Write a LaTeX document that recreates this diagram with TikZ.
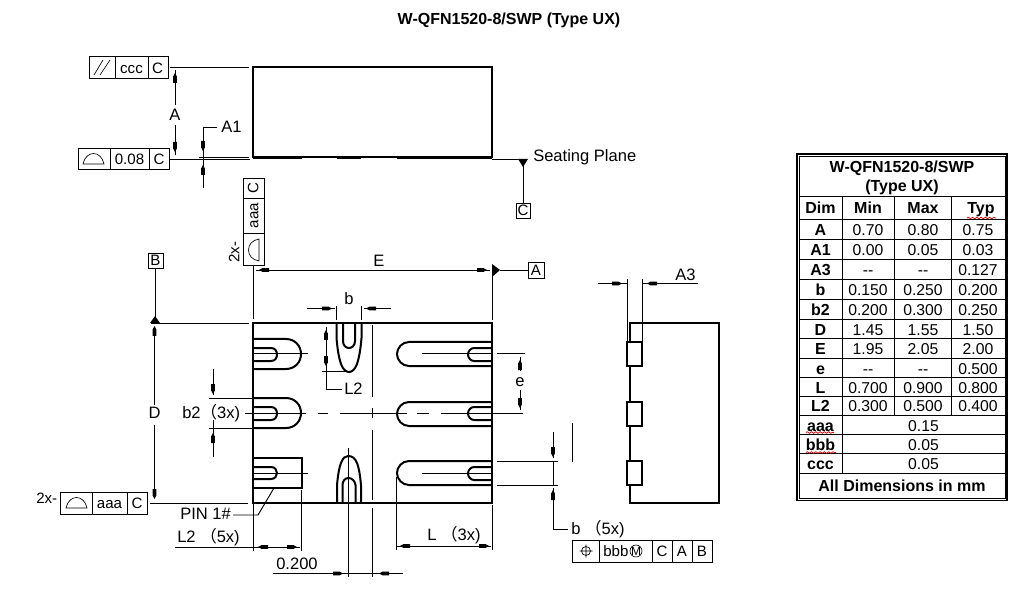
\documentclass[tikz,border=0pt]{standalone}
\usepackage{fontspec}
\setmainfont{Liberation Sans}
\newfontfamily\cjkf{Noto Sans CJK SC}
\usetikzlibrary{decorations.pathmorphing}
\newcommand{\fp}{{\cjkf （}}
\newcommand{\tipp}[3]{\fill[black,shift={(#1,#2)},rotate=#3] (-5,-1.9)--(1.5,-1.9)--(5,0)--(1.5,1.9)--(-5,1.9)--cycle;}
\tikzset{
  thk/.style={line width=1.5pt,line join=miter,line cap=butt},
  thn/.style={line width=.72pt},
  sym/.style={line width=.5pt},
  lab/.style={inner sep=0pt,text height=8.9pt,text depth=0pt,font=\fontsize{12.4}{14}\selectfont},
  ftx/.style={inner sep=0pt,text height=8.1pt,text depth=0pt,font=\fontsize{11.3}{13}\selectfont},
  num/.style={inner sep=0pt,text height=8.4pt,text depth=0pt,font=\fontsize{11.8}{13}\selectfont},
  hdr/.style={inner sep=0pt,text height=8.6pt,text depth=0pt,font=\fontsize{12}{13}\selectfont\bfseries},
  wavy/.style={draw=red!80!black,line width=.55pt,decorate,decoration={snake,segment length=3.2pt,amplitude=.6pt}},
}
\begin{document}
\begin{tikzpicture}[x=.75pt,y=-.75pt]
\useasboundingbox (0,0) rectangle (1020,591);
\node[hdr] (title) at (509,18.5) {W-QFN1520-8/SWP (Type UX)};

% ---- top view
\draw[thk] (253,157.5) -- (253,67) -- (492,67) -- (492,157.5) -- cycle;
\draw[thk] (253,158.5)--(302,158.5) (337,158.5)--(361,158.5) (397,158.5)--(492,158.5);
% ccc frame
\draw[thn] (89,56) rectangle (168,78) (115,56)--(115,78) (148,56)--(148,78);
\draw[sym] (94,75)--(103,60) (100,75)--(110,60);
\node[ftx] (fccc) at (131.5,68) {ccc};
\node[ftx] (fcc) at (157.5,68) {C};
\draw[thn] (170,67)--(249,67);
\draw[thn] (175,70)--(175,105) (175,125)--(175,155);
\tipp{175}{78}{90}\tipp{175}{147}{-90}
\node[lab] (dA) at (175,115) {A};
% 0.08 frame
\draw[thn] (78,148) rectangle (169,169) (110,148)--(110,169) (149,148)--(149,169);
\draw[sym] (83,164) .. controls (86,150) and (101,150) .. (104,164) -- cycle;
\node[ftx] (f08) at (129.5,159) {0.08};
\node[ftx] (f08c) at (159,159) {C};
\draw[thn] (170,159)--(250,159) (199,157)--(249,157);
\draw[thn] (217,127)--(203,127)--(203,188);
\tipp{203}{146}{-90}\tipp{203}{170}{90}
\node[lab,anchor=west] (dA1) at (221,126.5) {A1};
% seating
\draw[thn] (492,159)--(518,159) (523,165)--(523,203);
\fill (518,159)--(528,159)--(523,167)--cycle;
\node[lab,anchor=west] (seat) at (533,156) {Seating Plane};
\draw[thn] (516,203) rectangle (530,218);
\node[ftx] (dc) at (523,210.5) {C};
% vertical frame
\draw[thn] (243,178) rectangle (264,265) (243,198)--(264,198) (243,233)--(264,233);
\node[ftx,rotate=90] (vc) at (253,188) {C};
\node[ftx,rotate=90] (vaaa) at (253,215.5) {aaa};
\draw[sym] (259,239) .. controls (245,241) and (245,259) .. (259,261) -- cycle;
\node[ftx,rotate=90] (v2x) at (234,252) {2x-};
% E dim
\draw[thn] (253,265)--(253,319) (492,267)--(492,320);
\draw[thn] (256,270)--(490,270);
\tipp{264}{270}{180}\tipp{482}{270}{0}
\node[lab] (dE) at (379,261) {E};
\draw[thn] (500,270)--(528,270);
\fill (492,264)--(500,270)--(492,277)--cycle;
\draw[thn] (528,262) rectangle (544,278);
\node[ftx] (da) at (536,270) {A};
% B datum
\draw[thn] (148,253) rectangle (163,268);
\node[ftx] (db) at (155.5,260.5) {B};
\draw[thn] (155,268)--(155,317) (151,323)--(249,323);
\fill (150,323)--(160,323)--(155,316)--cycle;
% D dim
\draw[thn] (154.5,328)--(154.5,405) (154.5,425)--(154.5,498);
\tipp{154.5}{331}{90}\tipp{154.5}{494}{-90}
\node[lab] (dD) at (154.5,413) {D};
\draw[thn] (150,503)--(248,503);
% aaa frame
\draw[thn] (60,492) rectangle (147,514) (92,492)--(92,514) (127,492)--(127,514);
\draw[sym] (66,508) .. controls (69,494) and (84,494) .. (87,508) -- cycle;
\node[ftx] (faaa) at (109.5,503) {aaa};
\node[ftx] (fac) at (137,503) {C};
\node[ftx,anchor=west] (f2x) at (36,498.5) {2x-};

% ---- bottom view body
\draw[thk] (253,323) rectangle (492,503);
% left pads
\foreach \yo/\yi/\yc in {339/348/354,398/407/413.5}{
  \pgfmathsetmacro\yb{\yo+30}
  \draw[thk] (253,\yo)--(286,\yo) .. controls (295,\yo) and (301,\yo+7) .. (301,\yo+15) .. controls (301,\yo+23) and (295,\yb) .. (286,\yb)--(253,\yb);
  \draw[thk] (253,\yi)--(271,\yi) .. controls (275,\yi) and (277,\yi+3) .. (277,\yi+6.5) .. controls (277,\yi+10) and (275,\yi+13) .. (271,\yi+13)--(253,\yi+13);
}
\draw[thn] (253,353.5)--(308,353.5);
\draw[thn] (245,413.5)--(306,413.5) (318,413.5)--(328,413.5) (340,413.5)--(407,413.5) (417,413.5)--(429,413.5) (441,413.5)--(523,413.5);
% pin1 pad
\draw[thk] (253,458)--(301.5,458)--(301.5,488)--(253,488);
\draw[thk] (253,467)--(271,467) .. controls (275,467) and (277,470) .. (277,473) .. controls (277,476) and (275,479) .. (271,479)--(253,479);
\draw[thn] (253,473.5)--(308,473.5);
% right pads
\foreach \yo/\yi in {342/348,402/407,461/467}{
  \pgfmathsetmacro\yb{\yo+24}
  \draw[thk] (492,\yo)--(409,\yo) .. controls (402,\yo) and (397,\yo+6) .. (397,\yo+12) .. controls (397,\yo+18) and (402,\yb) .. (409,\yb)--(492,\yb);
  \draw[thk] (492,\yi)--(474,\yi) .. controls (471,\yi) and (468,\yi+3) .. (468,\yi+6.5) .. controls (468,\yi+10) and (471,\yi+13) .. (474,\yi+13)--(492,\yi+13);
}
\draw[thn] (422,353.5)--(492,353.5) (422,473.5)--(492,473.5);
% top pad
\draw[thk] (336.5,323)--(336.5,338) .. controls (337.5,350) and (339,358) .. (341,364) .. controls (343,369.5) and (346,372) .. (349,372) .. controls (352,372) and (355,369.5) .. (357,364) .. controls (359,358) and (360.5,350) .. (361.5,338)--(361.5,323);
\draw[thk] (343,323)--(343,341) .. controls (343,345.5) and (346,348) .. (349,348) .. controls (352,348) and (355,345.5) .. (355,341)--(355,323);
% bottom pad
\draw[thk] (337,503)--(337,485) .. controls (338,475) and (339,468) .. (341,463) .. controls (343,458) and (345,456) .. (348,456) .. controls (352,456) and (355,458) .. (357,463) .. controls (359,468) and (360,475) .. (361,485)--(361,503);
\draw[thk] (342.5,503)--(342.5,485) .. controls (342.5,481) and (345,478) .. (348.5,478) .. controls (352,478) and (355,481) .. (355.5,485)--(355.5,503);
% centre lines
\draw[thn] (372,325)--(372,397) (372,408)--(372,418) (372,430)--(372,500) (372,508)--(372,577);
\draw[thn] (348.5,448)--(348.5,577);
% b dim
\draw[thn] (336,306)--(336,320) (361,306)--(361,320);
\draw[thn] (307,308.5)--(335,308.5) (364,308.5)--(391,308.5);
\tipp{327}{308.5}{0}\tipp{371}{308.5}{180}
\node[lab] (db2) at (349,298.5) {b};
% L2 leader
\draw[thn] (322,371)--(349,371);
\draw[thn] (326,327)--(326,389.5)--(342,389.5);
\tipp{326}{335}{90}\tipp{326}{361}{-90}
\node[lab,anchor=west] (dL2) at (344,389) {L2};
% b2
\draw[thn] (209,398)--(253,398) (209,428)--(253,428);
\draw[thn] (213,369)--(213,395) (213,420)--(213,457);
\tipp{213}{389}{-90}\tipp{213}{438}{90}
\node[lab,anchor=west] (db3) at (182,412.5) {b2\fp 3x)};
% e
\draw[thn] (497,353.5)--(525,353.5);
\draw[thn] (520,357)--(520,371) (520,390)--(520,410);
\tipp{520}{365}{90}\tipp{520}{403}{-90}
\node[lab] (de) at (520,380.5) {e};
% L2 (5x)
\draw[thn] (175,547)--(300,547) (253,504)--(253,551) (301.5,490)--(301.5,551);
\tipp{263}{547}{180}\tipp{292}{547}{0}
\node[lab,anchor=west] (dL25) at (177,536.5) {L2 \fp 5x)};
% PIN
\node[lab,anchor=west] (pin) at (180,514) {PIN 1\#};
\draw[thn] (233,515)--(258,515)--(274,488);
% 0.200
\draw[thn] (273,573.5)--(403,573.5);
\tipp{338}{573.5}{0}\tipp{384}{573.5}{180}
\node[lab,anchor=west] (d02) at (276,564) {0.200};
% L (3x)
\draw[thn] (396,477)--(396,550) (492,505)--(492,550) (397,546)--(491,546);
\tipp{405}{546}{180}\tipp{484}{546}{0}
\node[lab,anchor=west] (dL3) at (427,534.5) {L \fp 3x)};
% b (5x)
\draw[thn] (497,461)--(558,461) (497,485)--(558,485);
\draw[thn] (553,432)--(553,458) (553,461)--(553,485) (553,488)--(553,529)--(568,529);
\tipp{553}{452}{-90}\tipp{553}{495}{90}
\draw[thn] (572,423)--(572,462);
\node[lab,anchor=west] (db5) at (571,528.5) {b \fp 5x)};
% bbb frame
\draw[thn] (572,540) rectangle (712,562) (599,540)--(599,562) (652,540)--(652,562) (672,540)--(672,562) (692,540)--(692,562);
\draw[sym] (586,551) circle[radius=4.5] (579.5,551)--(592.5,551) (586,544.5)--(586,557.5);
\node[ftx,anchor=west] (fbbb) at (603,551) {bbb};
\draw[sym] (636,551) circle[radius=6];
\node[inner sep=0pt,font=\fontsize{9}{10}\selectfont] (fm) at (636,551) {M};
\node[ftx] (fc5) at (662,551) {C};
\node[ftx] (fa5) at (682,551) {A};
\node[ftx] (fb5) at (702,551) {B};

% ---- side view
\draw[thk] (630,323) rectangle (719,502.5);
\foreach \y in {342,402,461}{\draw[thk,fill=white] (627,\y) rectangle (642,\y+24);}
\draw[thn] (627.5,279)--(627.5,342) (642,279)--(642,342);
\draw[thn] (598,283.5)--(627,283.5) (642,283.5)--(698,283.5);
\tipp{617}{283.5}{0}\tipp{652}{283.5}{180}
\node[lab,anchor=west] (dA3) at (675,274.5) {A3};

% ---- table
\draw[line width=.8pt] (797,154) rectangle (1007,500.5);
\draw[line width=.6pt] (799,156) rectangle (1005,498.5);
\draw[thn] (799,196)--(1005,196);
\foreach \y in {219,239,259,279,299,319,338,358,377,396,415,434,453,473}{\draw[thn] (799,\y)--(1005,\y);}
\draw[thn] (842,196)--(842,473) (894,196)--(894,415) (951,196)--(951,415);
\node[hdr] (t1) at (902,167) {W-QFN1520-8/SWP};
\node[hdr] (t2) at (902,186) {(Type UX)};
\node[hdr] (h1) at (820.5,208) {Dim};
\node[hdr] (h2) at (868,208) {Min};
\node[hdr] (h3) at (923,208) {Max};
\node[hdr] (h4) at (981,208) {Typ};
\draw[wavy] (967,218)--(996,218);
\foreach \n/\y/\a/\b/\c in {A/230/0.70/0.80/0.75,A1/250/0.00/0.05/0.03,A3/270/-{}-/-{}-/0.127,b/290/0.150/0.250/0.200,b2/310/0.200/0.300/0.250,D/329.5/1.45/1.55/1.50,E/349/1.95/2.05/2.00,e/368.5/-{}-/-{}-/0.500,L/387.5/0.700/0.900/0.800,L2/406/0.300/0.500/0.400}{
  \node[hdr] (r\n) at (820.5,\y) {\n};
  \node[num] (r\n a) at (868,\y) {\a};
  \node[num] (r\n b) at (923,\y) {\b};
  \node[num] (r\n c) at (978,\y) {\c};
}
\foreach \n/\y/\v in {aaa/426/0.15,bbb/445/0.05,ccc/463.5/0.05}{
  \node[hdr] (r\n) at (820.5,\y) {\n};
  \node[num] (r\n v) at (923.5,\y) {\v};
}
\draw[wavy] (806,432.5)--(834,432.5);
\draw[wavy] (806,452.5)--(836,452.5);
\node[hdr] (tfoot) at (902,486) {All Dimensions in mm};
\end{tikzpicture}
\end{document}
